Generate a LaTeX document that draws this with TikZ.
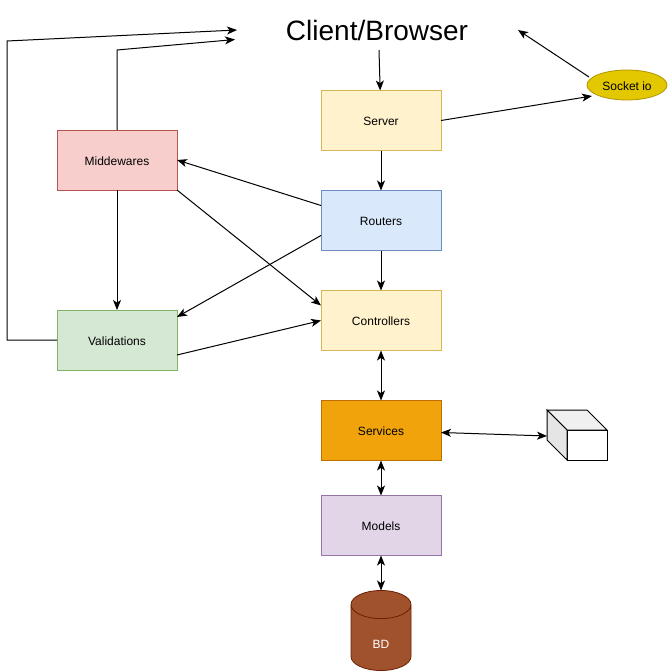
\documentclass[tikz,border=0pt]{standalone}
\usepackage{fontspec}
\setmainfont{Liberation Sans}
\usetikzlibrary{shapes.geometric, arrows.meta, positioning}
\definecolor{serverfill}{HTML}{FFF2CC}
\definecolor{serverline}{HTML}{D6B656}
\definecolor{routerfill}{HTML}{DAE8FC}
\definecolor{routerline}{HTML}{6C8EBF}
\definecolor{middlefill}{HTML}{F8CECC}
\definecolor{middleline}{HTML}{B85450}
\definecolor{validfill}{HTML}{D5E8D4}
\definecolor{validline}{HTML}{82B366}
\definecolor{servicefill}{HTML}{F0A30A}
\definecolor{serviceline}{HTML}{BD7000}
\definecolor{modelfill}{HTML}{E1D5E7}
\definecolor{modelline}{HTML}{9673A6}
\definecolor{dbfill}{HTML}{A0522D}
\definecolor{dbline}{HTML}{6D1F00}
\definecolor{socketfill}{HTML}{E3C800}
\definecolor{socketline}{HTML}{B09500}
\tikzstyle{box} = [rectangle, minimum width=90pt, minimum height=45pt, text centered, outer sep=0pt, line width=0.6pt, text height=8pt, text depth=0pt, font=\fontsize{9}{11}\selectfont]
\tikzstyle{yellowbox} = [box, draw=serverline, fill=serverfill]
\tikzstyle{arrow} = [line width=0.75pt,->,>={Stealth[length=7.5pt,width=6pt,inset=2pt]}]
\tikzstyle{both} = [arrow,<->]
\begin{document}
\begin{tikzpicture}[x=0.75pt, y=-0.75pt, node distance=30pt]
\useasboundingbox (0,0) rectangle (668,671);
\node (client) [minimum width=210pt, minimum height=30pt, outer sep=0pt, font=\fontsize{21}{25}\selectfont] at (377,30) {Client/Browser};
\node (server) [yellowbox] at (381,120.5) {Server};
\node (routers) [box, draw=routerline, fill=routerfill, below=of server] {Routers};
\node (controllers) [yellowbox, below=of routers] {Controllers};
\node (services) [box, draw=serviceline, fill=servicefill, below=37.5pt of controllers] {Services};
\node (models) [box, draw=modelline, fill=modelfill, below=26.25pt of services] {Models};
\node (bd) [cylinder, shape border rotate=90, aspect=1.1, minimum width=45pt, minimum height=60pt, outer sep=0pt, line width=0.6pt, draw=dbline, fill=dbfill, text=white, text height=10pt, text depth=0pt, font=\fontsize{9}{11}\selectfont, below=26.25pt of models] {BD};
\node (middlewares) [box, draw=middleline, fill=middlefill] at (117,160) {Middewares};
\node (validations) [box, draw=validline, fill=validfill] at (117,340) {Validations};
\node (socket) [ellipse, minimum width=60pt, minimum height=22.5pt, inner sep=0pt, outer sep=0pt, line width=0.6pt, draw=socketline, fill=socketfill, text height=8pt, text depth=0pt, font=\fontsize{9}{11}\selectfont] at (627,85) {Socket io};
\node (cube) [minimum width=45pt, minimum height=37.5pt, inner sep=0pt, outer sep=0pt] at (577,435) {};

% cube faces
\draw [line width=0.75pt, fill=white] (cube.south east) -- ++(0,-30) -- ++(-40,0) -- ++(0,30) -- cycle;
\draw [line width=0.75pt, fill=black!6] (cube.north west) -- ++(40,0) -- ++(20,20) -- ++(-40,0) -- cycle;
\draw [line width=0.75pt, fill=black!10] (cube.north west) -- ++(20,20) -- ++(0,30) -- ++(-20,-20) -- cycle;

\coordinate (clientleft) at (235,39.5);
\coordinate (clientright) at (518,30);
\coordinate (socketin) at (592,96);
\coordinate (socketout) at (589,77);
\coordinate (cubein) at (547,436);

\draw [arrow] ([xshift=1.5pt]client.south) -- (server);
\draw [arrow] (server) -- (routers);
\draw [arrow] (routers) -- (controllers);
\draw [both] (controllers) -- (services);
\draw [both] (services) -- (models);
\draw [both] (models) -- (bd);
\draw [both] (services) -- (cubein);
\draw [arrow] (server.east) -- (socketin);
\draw [arrow] (socketout) -- (clientright);
\draw [arrow] ([yshift=11.25pt]routers.west) -- (middlewares.east);
\draw [arrow] ([yshift=-11.25pt]routers.west) -- ([yshift=-5.25pt]validations.north east);
\draw [arrow] (middlewares) -- (validations);
\draw [arrow] (middlewares.south east) -- ([yshift=11.25pt]controllers.west);
\draw [arrow] ([yshift=-11.25pt]validations.east) -- (controllers.west);
\draw [arrow] (validations.west) -- ++(-50,0) -- ++(0,-299) -- (client.west);
\draw [arrow] (middlewares.north) -- ++(0,-80) -- (clientleft);
\end{tikzpicture}
\end{document}
